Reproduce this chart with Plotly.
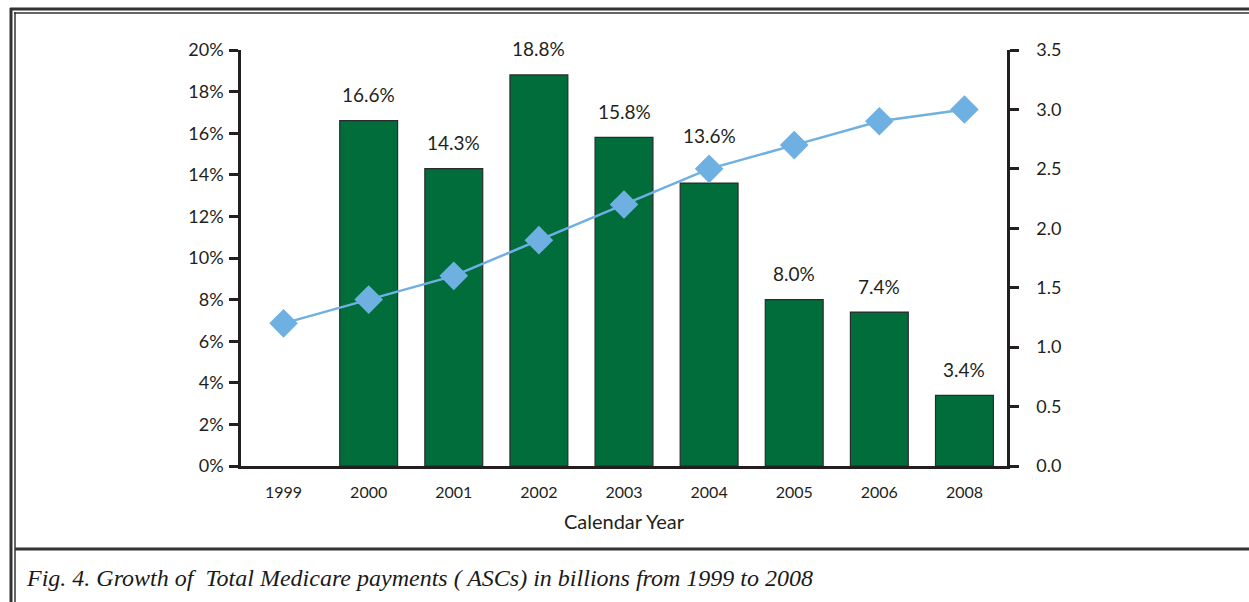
import plotly.graph_objects as go

# Calendar years on the category axis
years = ["1999", "2000", "2001", "2002", "2003", "2004", "2005", "2006", "2008"]
# Annual growth rate (%) shown as bars; no growth figure for 1999
growth_pct = [None, 16.6, 14.3, 18.8, 15.8, 13.6, 8.0, 7.4, 3.4]
# Total Medicare ASC payments, billions of dollars
payments_bn = [1.2, 1.4, 1.6, 1.9, 2.2, 2.5, 2.7, 2.9, 3.0]
# Left-axis tick values (percent)
pct_ticks = list(range(0, 21, 2))
# Right-axis tick values (billions)
bn_ticks = [0.0, 0.5, 1.0, 1.5, 2.0, 2.5, 3.0, 3.5]

W, H = 1249, 602
ML, MR, MT, MB = 241, 242, 50, 136
PW, PH = W - ML - MR, H - MT - MB

FONT = "Lato, 'Noto Sans', sans-serif"
INK = "#231f20"
BAR = "#016d3b"
LINE = "#6fb0e2"


def px_x(x):
    return (x - ML) / PW


def px_y(y):
    return 1 - (y - MT) / PH


fig = go.Figure()

fig.add_trace(go.Bar(
    x=years,
    y=growth_pct,
    marker=dict(color=BAR, line=dict(color="#2b2b2b", width=1.2)),
    width=0.68,
    showlegend=False,
    yaxis="y",
))

fig.add_trace(go.Scatter(
    x=years,
    y=payments_bn,
    mode="lines+markers",
    line=dict(color=LINE, width=2.5),
    marker=dict(symbol="diamond", size=22, color=LINE),
    showlegend=False,
    yaxis="y2",
    cliponaxis=False,
))

# Value labels above the bars (category index positions); the 2004 label
# is lifted clear of the line
for i, (yr, v) in enumerate(zip(years, growth_pct)):
    if v is None:
        continue
    fig.add_annotation(
        x=i, y=v, xref="x", yref="y",
        text=f"{v:.1f}%", showarrow=False,
        yanchor="middle", yshift=48 if yr == "2004" else 26,
        font=dict(family=FONT, size=19, color=INK),
    )

axis_common = dict(
    showline=True, linecolor=INK, linewidth=2.5,
    ticks="outside", ticklen=9, tickwidth=2.5, tickcolor=INK,
    showgrid=False, zeroline=False,
    tickfont=dict(family=FONT, size=18, color=INK),
)

fig.update_layout(
    width=W, height=H,
    margin=dict(l=ML, r=MR, t=MT, b=MB, autoexpand=False),
    paper_bgcolor="white", plot_bgcolor="white",
    xaxis=dict(
        type="category", range=[-0.5, len(years) - 0.5], autorange=False,
        showline=True, linecolor=INK, linewidth=2.5,
        ticks="", showgrid=False, zeroline=False,
        tickfont=dict(family=FONT, size=16, color=INK),
        title=dict(text="Calendar Year", font=dict(family=FONT, size=20, color=INK), standoff=16),
        ticklabelstandoff=10,
    ),
    yaxis=dict(
        range=[0, 20], tickvals=pct_ticks, ticktext=[f"{t}%" for t in pct_ticks],
        ticklabelstandoff=2,
        **axis_common,
    ),
    yaxis2=dict(
        range=[0, 3.5], tickvals=bn_ticks, ticktext=[f"{t:.1f}" for t in bn_ticks],
        overlaying="y", side="right",
        ticklabelstandoff=14,
        **axis_common,
    ),
)

# Page frame: double rule on the top and left, rule above the caption
frame = dict(type="line", xref="paper", yref="paper", layer="above")
fig.add_shape(**frame, x0=px_x(10), x1=px_x(W), y0=px_y(9), y1=px_y(9),
              line=dict(color="#333333", width=3))
fig.add_shape(**frame, x0=px_x(14), x1=px_x(W), y0=px_y(13), y1=px_y(13),
              line=dict(color="#333333", width=1.5))
fig.add_shape(**frame, x0=px_x(11), x1=px_x(11), y0=px_y(8), y1=px_y(H),
              line=dict(color="#333333", width=3))
fig.add_shape(**frame, x0=px_x(15), x1=px_x(15), y0=px_y(12), y1=px_y(H),
              line=dict(color="#333333", width=1.5))
fig.add_shape(**frame, x0=px_x(15), x1=px_x(W), y0=px_y(549), y1=px_y(549),
              line=dict(color="#333333", width=3))

fig.add_annotation(
    text="Fig. 4. Growth of  Total Medicare payments ( ASCs) in billions from 1999 to 2008",
    xref="paper", yref="paper", x=px_x(24), y=px_y(578),
    xanchor="left", yanchor="middle", showarrow=False,
    font=dict(family="'Liberation Serif', 'DejaVu Serif', serif", size=24, color="#1a1a1a", style="italic"),
)

fig.write_html("out.html")
